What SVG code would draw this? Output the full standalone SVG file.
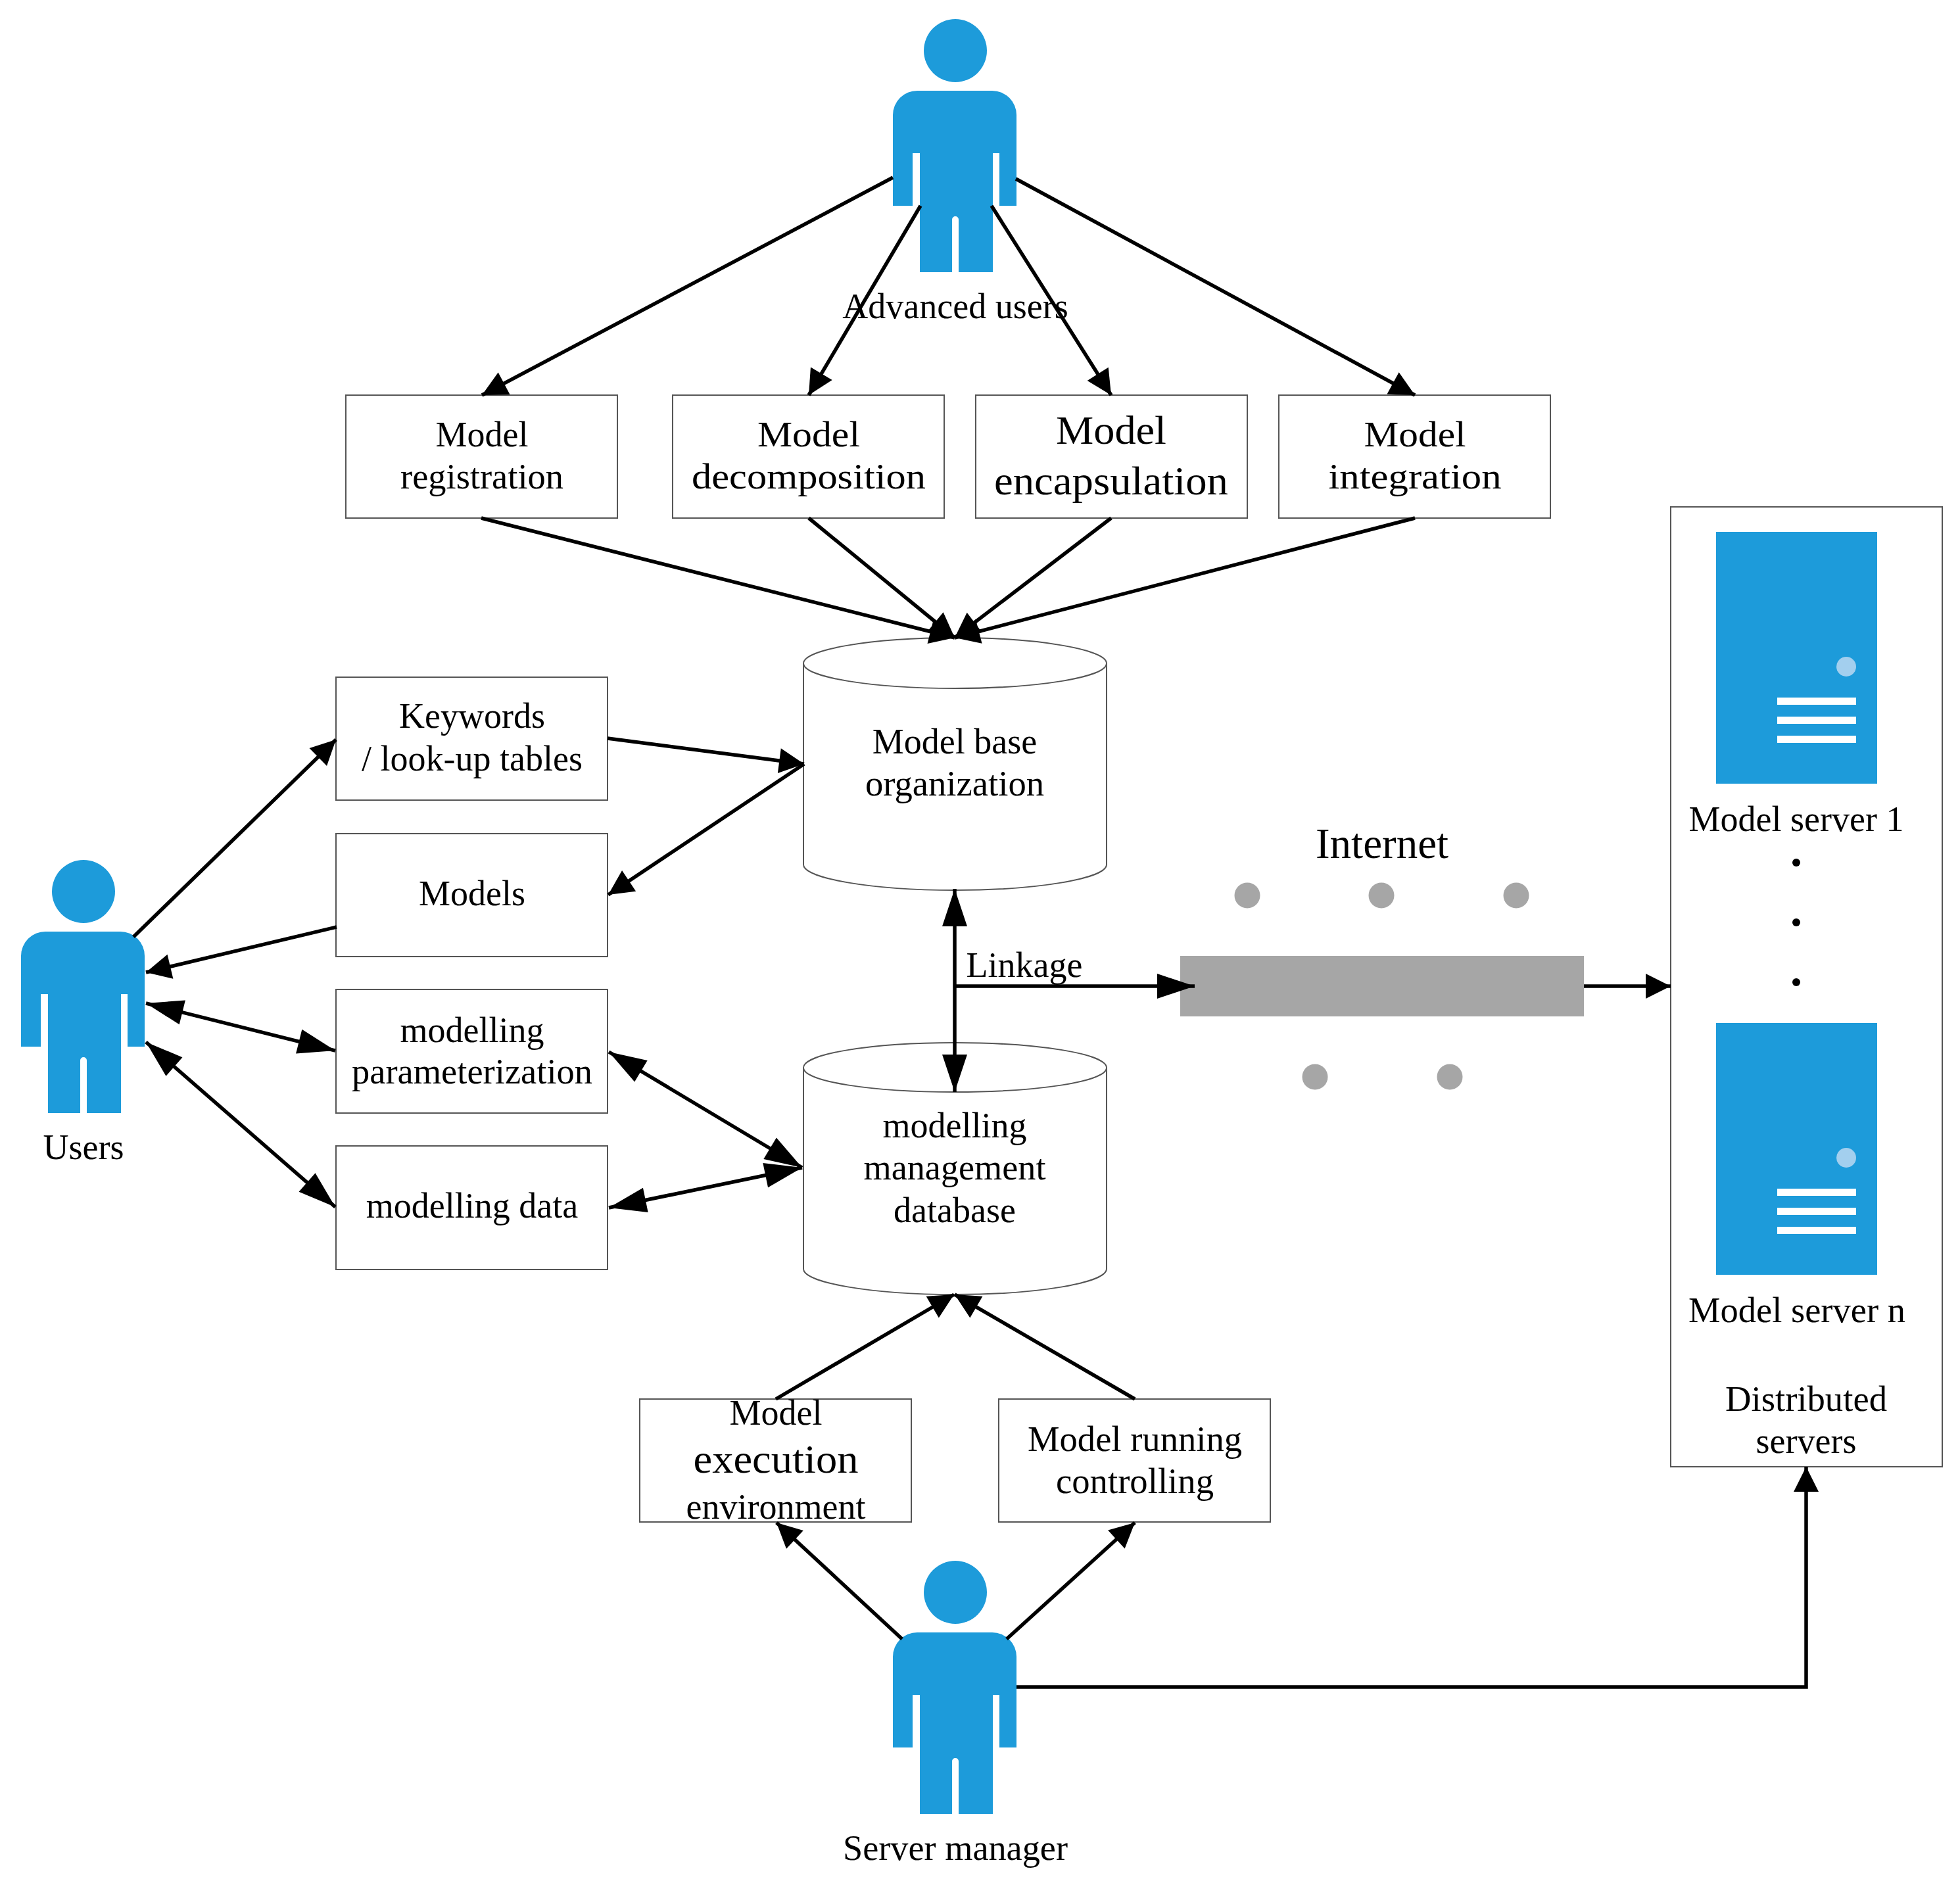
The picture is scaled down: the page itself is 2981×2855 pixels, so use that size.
<svg xmlns="http://www.w3.org/2000/svg" width="2981" height="2855" viewBox="0 0 2981 2855">
<style>
.t{font-family:"Liberation Serif","Times New Roman",serif;font-size:54px;text-anchor:middle;fill:#000}
.l{font-size:62px}
.box{fill:#fff;stroke:#555;stroke-width:2}
.blue{fill:#1d9bda}
.c line,.c path{fill:none;stroke:#000;stroke-width:5.5}
.e{marker-end:url(#a)}
.n{marker-end:url(#h)}
.b{marker-start:url(#h);marker-end:url(#h)}
.g{fill:#a6a6a6}
</style>
<defs>
<marker id="a" markerUnits="userSpaceOnUse" markerWidth="39" markerHeight="38" refX="38" refY="19" orient="auto" overflow="visible"><path d="M0,0L38,19L0,38Z" fill="#000"/></marker>
<marker id="h" markerUnits="userSpaceOnUse" markerWidth="58" markerHeight="38" refX="57" refY="19" orient="auto-start-reverse" overflow="visible"><path d="M0,0L57,19L0,38Z" fill="#000"/></marker>
<g id="person" class="blue"><circle cx="0" cy="48" r="48"/><path d="M-95,146a37,37 0 0 1 37,-37H56a37,37 0 0 1 37,37V284H67V204H57V385H5V305a5,5 0 0 0 -10,0V385H-54V204H-65V284H-95Z"/></g>
<g id="server"><rect class="blue" x="2610" y="808" width="245" height="383"/><circle cx="2808" cy="1013" r="15" fill="#a3cfee"/><rect x="2703" y="1060" width="120" height="11" fill="#fff"/><rect x="2703" y="1089" width="120" height="11" fill="#fff"/><rect x="2703" y="1118" width="120" height="11" fill="#fff"/></g>
</defs>
<rect width="2981" height="2855" fill="#fff"/>
<g transform="translate(0,1)">
<g id="distributed-servers"><rect class="box" x="2541" y="770" width="413" height="1460"/><text class="t" x="2747" y="2145" textLength="246" lengthAdjust="spacingAndGlyphs">Distributed</text><text class="t" x="2747" y="2209">servers</text></g>
<g id="model-server-1"><use href="#server"/><text class="t" x="2732" y="1263">Model server 1</text></g>
<g id="server-dots"><circle cx="2732" cy="1311" r="6"/><circle cx="2732" cy="1402" r="6"/><circle cx="2732" cy="1493" r="6"/></g>
<g id="model-server-n"><use href="#server" y="747"/><text class="t" x="2733" y="2010" textLength="330" lengthAdjust="spacingAndGlyphs">Model server n</text></g>
<g id="advanced-users"><use href="#person" x="1453" y="28"/><text class="t" x="1453" y="483">Advanced users</text></g>
<g id="users"><use href="#person" x="127" y="1307"/><text class="t" x="127" y="1762">Users</text></g>
<g id="server-manager"><use href="#person" x="1453" y="2373"/><text class="t" x="1453" y="2828" textLength="342" lengthAdjust="spacingAndGlyphs">Server manager</text></g>
<g id="model-registration"><rect class="box" x="526" y="600" width="413" height="187"/><text class="t" x="733" y="678">Model</text><text class="t" x="733" y="742" textLength="248" lengthAdjust="spacingAndGlyphs">registration</text></g>
<g id="model-decomposition"><rect class="box" x="1023" y="600" width="413" height="187"/><text class="t" x="1230" y="678" textLength="156" lengthAdjust="spacingAndGlyphs">Model</text><text class="t" x="1230" y="742" textLength="356" lengthAdjust="spacingAndGlyphs">decomposition</text></g>
<g id="model-encapsulation"><rect class="box" x="1484" y="600" width="413" height="187"/><text class="t l" x="1690" y="674" textLength="168" lengthAdjust="spacingAndGlyphs">Model</text><text class="t l" x="1690" y="751" textLength="356" lengthAdjust="spacingAndGlyphs">encapsulation</text></g>
<g id="model-integration"><rect class="box" x="1945" y="600" width="413" height="187"/><text class="t" x="2152" y="678" textLength="155" lengthAdjust="spacingAndGlyphs">Model</text><text class="t" x="2152" y="742" textLength="263" lengthAdjust="spacingAndGlyphs">integration</text></g>
<g id="keywords"><rect class="box" x="511" y="1029" width="413" height="187"/><text class="t" x="718" y="1106">Keywords</text><text class="t" x="718" y="1171">/ look-up tables</text></g>
<g id="models"><rect class="box" x="511" y="1267" width="413" height="187"/><text class="t" x="718" y="1376">Models</text></g>
<g id="modelling-parameterization"><rect class="box" x="511" y="1504" width="413" height="188"/><text class="t" x="718" y="1584">modelling</text><text class="t" x="718" y="1647" textLength="366" lengthAdjust="spacingAndGlyphs">parameterization</text></g>
<g id="modelling-data"><rect class="box" x="511" y="1742" width="413" height="188"/><text class="t" x="718" y="1851">modelling data</text></g>
<g id="model-execution"><rect class="box" x="973" y="2127" width="413" height="187"/><text class="t" x="1180" y="2166">Model</text><text class="t l" x="1180" y="2239" textLength="251" lengthAdjust="spacingAndGlyphs">execution</text><text class="t" x="1180" y="2309">environment</text></g>
<g id="model-running"><rect class="box" x="1519" y="2127" width="413" height="187"/><text class="t" x="1726" y="2206" textLength="326" lengthAdjust="spacingAndGlyphs">Model running</text><text class="t" x="1726" y="2270" textLength="240" lengthAdjust="spacingAndGlyphs">controlling</text></g>
<g id="model-base"><path class="box" d="M1222,1008V1314C1222,1335 1325,1353 1452,1353C1580,1353 1683,1335 1683,1314V1008C1683,987 1580,969 1452,969C1325,969 1222,987 1222,1008C1222,1029 1325,1046 1452,1046C1580,1046 1683,1029 1683,1008"/><text class="t" x="1452" y="1145">Model base</text><text class="t" x="1452" y="1209" textLength="272" lengthAdjust="spacingAndGlyphs">organization</text></g>
<g id="modelling-management"><path class="box" d="M1222,1623V1929C1222,1950 1325,1968 1452,1968C1580,1968 1683,1950 1683,1929V1623C1683,1602 1580,1585 1452,1585C1325,1585 1222,1602 1222,1623C1222,1644 1325,1660 1452,1660C1580,1660 1683,1644 1683,1623"/><text class="t" x="1452" y="1729">modelling</text><text class="t" x="1452" y="1793" textLength="277" lengthAdjust="spacingAndGlyphs">management</text><text class="t" x="1452" y="1858">database</text></g>
<g id="internet"><rect class="g" x="1795" y="1453" width="614" height="92"/><circle class="g" cx="1897" cy="1361" r="19.5"/><circle class="g" cx="2101" cy="1361" r="19.5"/><circle class="g" cx="2306" cy="1361" r="19.5"/><circle class="g" cx="2000" cy="1637" r="19.5"/><circle class="g" cx="2205" cy="1637" r="19.5"/><text class="t" style="font-size:65px" x="2102" y="1304">Internet</text></g>
<g id="connectors" class="c">
<line class="e" x1="1358" y1="269" x2="733" y2="600"/>
<line class="e" x1="1400" y1="312" x2="1230" y2="600"/>
<line class="e" x1="1508" y1="312" x2="1690" y2="600"/>
<line class="e" x1="1545" y1="271" x2="2152" y2="600"/>
<line class="e" x1="732" y1="787" x2="1452" y2="969"/>
<line class="e" x1="1230" y1="787" x2="1452" y2="969"/>
<line class="e" x1="1690" y1="787" x2="1452" y2="969"/>
<line class="e" x1="2152" y1="787" x2="1452" y2="969"/>
<line class="e" x1="203" y1="1424" x2="511" y2="1124"/>
<line class="e" x1="512" y1="1409" x2="222" y2="1478"/>
<line class="b" x1="222" y1="1525" x2="510" y2="1597"/>
<line class="b" x1="222" y1="1584" x2="510" y2="1835"/>
<line class="e" x1="924" y1="1122" x2="1223" y2="1161"/>
<line class="e" x1="1223" y1="1161" x2="925" y2="1360"/>
<line class="b" x1="926" y1="1599" x2="1220" y2="1775"/>
<line class="b" x1="926" y1="1836" x2="1220" y2="1775"/>
<line class="b" x1="1452" y1="1351" x2="1452" y2="1660"/>
<line class="n" x1="1452" y1="1499" x2="1817" y2="1499"/>
<line class="e" x1="2409" y1="1499" x2="2541" y2="1499"/>
<line class="e" x1="1180" y1="2127" x2="1451" y2="1968"/>
<line class="e" x1="1726" y1="2127" x2="1452" y2="1968"/>
<line class="e" x1="1372" y1="2492" x2="1181" y2="2315"/>
<line class="e" x1="1531" y1="2492" x2="1726" y2="2315"/>
<path class="e" d="M1546,2565H2747V2230"/>
</g>
<text class="t" x="1558" y="1485">Linkage</text>
</g>
</svg>
